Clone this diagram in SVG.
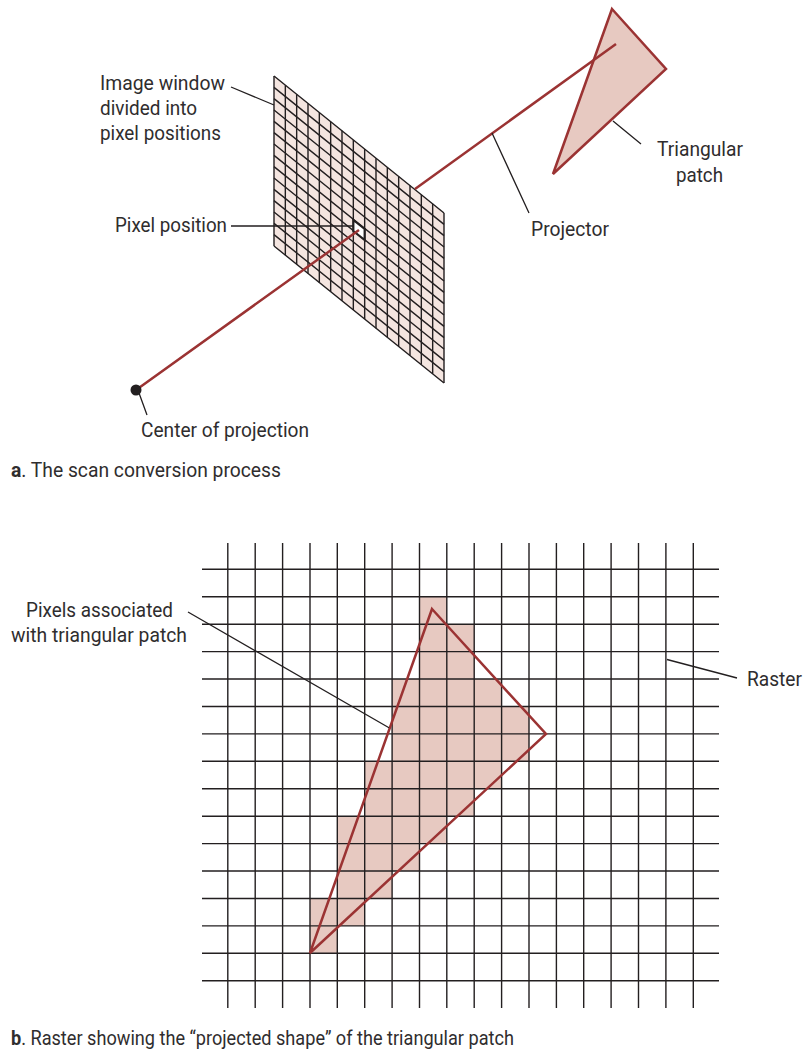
<svg xmlns="http://www.w3.org/2000/svg" width="804" height="1049" viewBox="0 0 804 1049">
<style>
text{font-family:Roboto,"Liberation Sans",Arial,sans-serif;font-size:20.5px;fill:#2f2d2e}
.g{fill:none;stroke:#231f20;stroke-width:1.4}
.l{fill:none;stroke:#231f20;stroke-width:1.3}
.r{fill:none;stroke:#9b3333;stroke-width:2.5;stroke-linejoin:miter}
.tf{fill:#e7c9c1}
</style>
<rect width="804" height="1049" fill="#fff"/>
<g id="image-window">
<polygon points="274,76 444,213 444,383 274,246" fill="#f4e5e0"/>
<path class="g" d="M274 76v170M285.33 85.13v170M296.67 94.27v170M308 103.4v170M319.33 112.53v170M330.67 121.67v170M342 130.8v170M353.33 139.93v170M364.67 149.07v170M376 158.2v170M387.33 167.33v170M398.67 176.47v170M410 185.6v170M421.33 194.73v170M432.67 203.87v170M444 213v170"/>
<path class="g" d="M274 76l170 137M274 87.33l170 137M274 98.67l170 137M274 110l170 137M274 121.33l170 137M274 132.67l170 137M274 144l170 137M274 155.33l170 137M274 166.67l170 137M274 178l170 137M274 189.33l170 137M274 200.67l170 137M274 212l170 137M274 223.33l170 137M274 234.67l170 137M274 246l170 137"/>
</g>
<g id="pixel-position">
<polygon points="353.33,220 364.67,229 364.67,240 353.33,231" fill="#fff" stroke="#231f20" stroke-width="2.2"/>
</g>
<g id="triangular-patch-a">
<polygon class="tf" points="612,9 666,69 553,174"/>
<polygon class="r" points="612,9 666,69 553,174"/>
</g>
<g id="connectors">
<path class="r" d="M136 390L359 230M415 189L616 44"/>
<path class="l" d="M231 87L274 105M231 226H353M139 393L147 415M492 133L529 213M613 121L641 144"/>
</g>
<g id="center-of-projection">
<circle cx="136" cy="390" r="5.5" fill="#231f20"/>
</g>
<g id="labels-a">
<text x="100" y="90" textLength="125" lengthAdjust="spacingAndGlyphs">Image window</text>
<text x="100" y="115" textLength="97" lengthAdjust="spacingAndGlyphs">divided into</text>
<text x="100" y="140" textLength="121" lengthAdjust="spacingAndGlyphs">pixel positions</text>
<text x="115" y="232" textLength="112" lengthAdjust="spacingAndGlyphs">Pixel position</text>
<text x="141" y="437" textLength="168" lengthAdjust="spacingAndGlyphs">Center of projection</text>
<text x="531" y="236" textLength="78" lengthAdjust="spacingAndGlyphs">Projector</text>
<text x="657" y="156" textLength="86" lengthAdjust="spacingAndGlyphs">Triangular</text>
<text x="676" y="182" textLength="47" lengthAdjust="spacingAndGlyphs">patch</text>
<text x="11" y="477" textLength="270" lengthAdjust="spacingAndGlyphs"><tspan font-weight="700">a</tspan>. The scan conversion process</text>
</g>
<g id="raster-pixels" class="tf">
<path d="M419.5 596.7H446.8V624.2H474.2V679H501.6V706.5H529V761.3H501.6V788.7H474.2V816.2H446.8V843.6H419.5V871H392.1V898.5H364.7V925.9H337.3V953.3H310V898.5H337.3V816.2H364.7V761.3H392.1V679H419.5Z"/>
</g>
<g id="raster">
<path class="g" d="M227.8 543V1008M255.2 543V1008M282.6 543V1008M310 543V1008M337.3 543V1008M364.7 543V1008M392.1 543V1008M419.5 543V1008M446.8 543V1008M474.2 543V1008M501.6 543V1008M529 543V1008M556.4 543V1008M583.7 543V1008M611.1 543V1008M638.5 543V1008M665.9 543V1008M693.3 543V1008"/>
<path class="g" d="M202 569.3H719M202 596.7H719M202 624.2H719M202 651.6H719M202 679H719M202 706.5H719M202 733.9H719M202 761.3H719M202 788.7H719M202 816.2H719M202 843.6H719M202 871H719M202 898.5H719M202 925.9H719M202 953.3H719M202 980.8H719"/>
</g>
<g id="triangular-patch-b">
<polygon class="r" points="432,609 546,734 310,953"/>
</g>
<g id="connectors-b">
<path class="l" d="M188 612L389 727.7M667 659.5L737 678"/>
</g>
<g id="labels-b">
<text x="26" y="617" textLength="147" lengthAdjust="spacingAndGlyphs">Pixels associated</text>
<text x="11" y="642" textLength="176" lengthAdjust="spacingAndGlyphs">with triangular patch</text>
<text x="747" y="686" textLength="55" lengthAdjust="spacingAndGlyphs">Raster</text>
<text x="11" y="1045" textLength="503" lengthAdjust="spacingAndGlyphs"><tspan font-weight="700">b</tspan>. Raster showing the “projected shape” of the triangular patch</text>
</g>
</svg>
